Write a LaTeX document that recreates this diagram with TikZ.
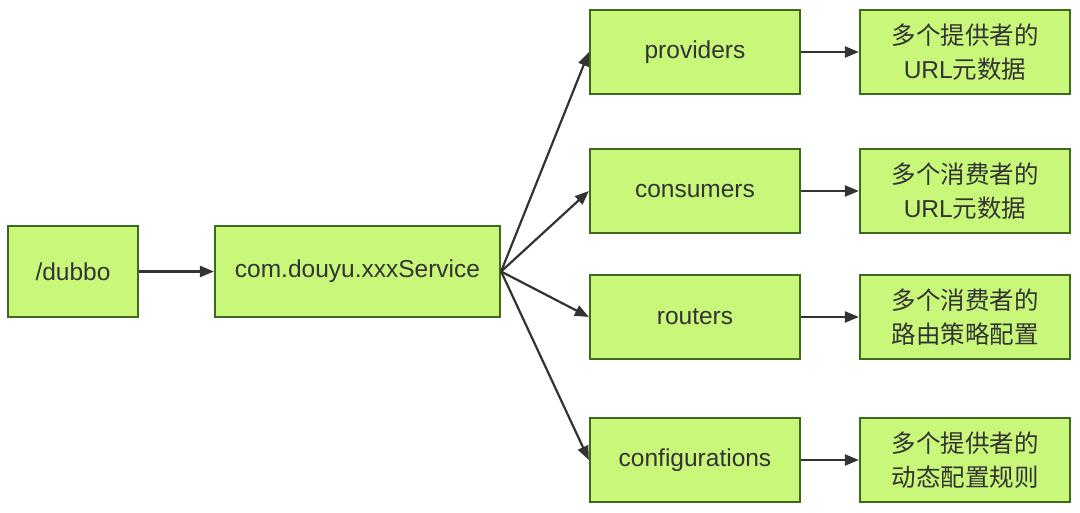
\documentclass[tikz,border=0pt]{standalone}
\usepackage{fontspec}
\setmainfont{Liberation Sans}
\newfontfamily\cjk{Noto Sans CJK SC}
\usetikzlibrary{arrows.meta}

\definecolor{zkfill}{HTML}{C8F77A}
\definecolor{zkline}{HTML}{3F6A1E}
\definecolor{zktext}{HTML}{333333}

\tikzstyle{zknode}=[rectangle,
                    draw=zkline,
                    line width=2.2pt,
                    fill=zkfill,
                    text=zktext,
                    inner sep=0pt,
                    align=center,
                    font=\fontsize{24.5}{34}\selectfont]
\tikzstyle{zkarrow}=[-{Triangle[length=14pt,width=11pt]},
                     line width=2.2pt,
                     draw=zktext]

\begin{document}
\begin{tikzpicture}[x=1pt,y=1pt]
    \useasboundingbox (0,0) rectangle (1080,512);
    % root and service
    \node [zknode, minimum width=130pt, minimum height=91pt] (root) at (73,240.5) {/dubbo};
    \node [zknode, minimum width=285pt, minimum height=91pt] (service) at (357.5,240.5) {com.douyu.xxxService};

    % category nodes
    \node [zknode, minimum width=210pt, minimum height=84pt] (providers) at (695,460) {providers};
    \node [zknode, minimum width=210pt, minimum height=84pt] (consumers) at (695,321) {consumers};
    \node [zknode, minimum width=210pt, minimum height=84pt] (routers) at (695,195) {routers};
    \node [zknode, minimum width=210pt, minimum height=84pt] (configurations) at (695,52) {configurations};

    % data nodes
    \node [zknode, minimum width=210pt, minimum height=84pt] (providersdata) at (965,460) {{\cjk 多个提供者的}\\URL{\cjk 元数据}};
    \node [zknode, minimum width=210pt, minimum height=84pt] (consumersdata) at (965,321) {{\cjk 多个消费者的}\\URL{\cjk 元数据}};
    \node [zknode, minimum width=210pt, minimum height=84pt] (routersdata) at (965,195) {\cjk 多个消费者的\\\cjk 路由策略配置};
    \node [zknode, minimum width=210pt, minimum height=84pt] (configurationsdata) at (965,52) {\cjk 多个提供者的\\\cjk 动态配置规则};

    \draw [zkarrow] (root) -- (service);
    \foreach \n/\d in {providers/providersdata,consumers/consumersdata,routers/routersdata,configurations/configurationsdata}{
        \draw [zkarrow] (service.east) -- (\n.west);
        \draw [zkarrow] (\n) -- (\d);
    }
\end{tikzpicture}
\end{document}
